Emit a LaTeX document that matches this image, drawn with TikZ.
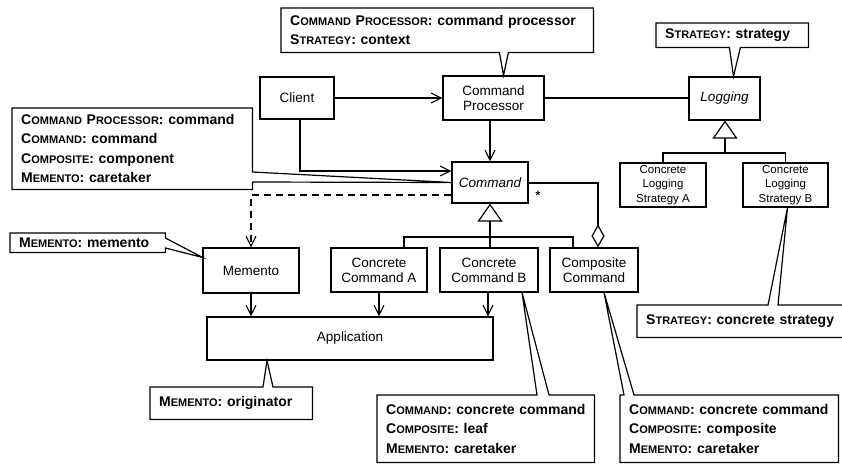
\documentclass[tikz,border=0pt]{standalone}
\usepackage{fontspec}
\setmainfont{Liberation Sans}
\usetikzlibrary{arrows.meta,calc}
% small capitals faked with a smaller size of the bold face
\newcommand\smc[1]{{\fontsize{11}{11}\selectfont #1}}

\begin{document}
\begin{tikzpicture}[x=1pt,y=-1pt,
  cls/.style={draw, line width=1.2pt, inner sep=0pt, align=center,
    font=\fontsize{13.5}{15}\selectfont},
  clsS/.style={cls, font=\fontsize{11.5}{14.5}\selectfont},
  note/.style={inner xsep=9pt, inner ysep=0pt, align=left, anchor=north west,
    font=\fontsize{14}{19.5}\selectfont\bfseries},
  outline/.style={line width=1.2pt, line join=miter},
  link/.style={line width=1.2pt},
  dep/.style={link, -{Straight Barb[length=10pt,width=10pt,line width=1.1pt]}},
  gen/.style={link, -{Triangle[open,length=18pt,width=25pt,line width=1.2pt]}},
  agg/.style={link, {Diamond[open,length=23pt,width=13pt,line width=1.2pt]}-},
]
\useasboundingbox (0,0) rectangle (842,463);

% ---------- classes ----------
\node[cls, minimum width=74pt,  minimum height=42pt] (client)   at (297,98)    {Client};
\node[cls, minimum width=101pt, minimum height=44pt] (cp)       at (493.5,98)  {Command\\Processor};
\node[cls, minimum width=71pt,  minimum height=43pt] (logging)  at (724.5,98.5) {\itshape Logging};
\node[cls, minimum width=76pt,  minimum height=41pt] (command)  at (490,182.5) {\itshape Command};
\node[clsS, minimum width=86pt, minimum height=44pt] (clsa)     at (663,185)   {Concrete\\Logging\\Strategy A};
\node[clsS, minimum width=85pt, minimum height=44pt] (clsb)     at (785.5,185) {Concrete\\Logging\\Strategy B};
\node[cls, minimum width=96pt,  minimum height=45pt] (memento)  at (251,270.5) {Memento};
\node[cls, minimum width=96pt,  minimum height=44pt] (cca)      at (379,270)   {Concrete\\Command A};
\node[cls, minimum width=98pt,  minimum height=44pt] (ccb)      at (489,270)   {Concrete\\Command B};
\node[cls, minimum width=88pt,  minimum height=44pt] (comp)     at (594,270)   {Composite\\Command};
\node[cls, minimum width=286pt, minimum height=43pt] (app)      at (350,338.5) {Application};

% ---------- notes ----------
\node[note, minimum width=312pt, minimum height=44pt, text width=294pt] (c1) at (281,8)
  {\mbox{C\smc{OMMAND} P\smc{ROCESSOR}: command processor}\\\mbox{S\smc{TRATEGY}: context}};
\node[note, minimum width=152pt, minimum height=24pt, text width=134pt] (c2) at (656,23)
  {\mbox{S\smc{TRATEGY}: strategy}};
\node[note, minimum width=240pt, minimum height=81pt, text width=222pt] (c3) at (12,108)
  {\mbox{C\smc{OMMAND} P\smc{ROCESSOR}: command}\\\mbox{C\smc{OMMAND}: command}\\
   \mbox{C\smc{OMPOSITE}: component}\\\mbox{M\smc{EMENTO}: caretaker}};
\node[note, minimum width=155pt, minimum height=19pt, text width=137pt] (c4) at (10,233)
  {\mbox{M\smc{EMENTO}: memento}};
\node[note, minimum width=162pt, minimum height=32pt, text width=144pt] (c5) at (150,387)
  {\mbox{M\smc{EMENTO}: originator}};
\node[note, minimum width=217pt, minimum height=67pt, text width=199pt] (c6) at (377,395)
  {\mbox{C\smc{OMMAND}: concrete command}\\\mbox{C\smc{OMPOSITE}: leaf}\\\mbox{M\smc{EMENTO}: caretaker}};
\node[note, minimum width=218pt, minimum height=67pt, text width=200pt] (c7) at (620,395)
  {\mbox{C\smc{OMMAND}: concrete command}\\\mbox{C\smc{OMPOSITE}: composite}\\\mbox{M\smc{EMENTO}: caretaker}};
\node[note, minimum width=215pt, minimum height=32pt, text width=197pt] (c8) at (637,305)
  {\mbox{S\smc{TRATEGY}: concrete strategy}};

% note outlines with their pointers
\draw[outline] (c1.south west) -- (c1.north west) -- (c1.north east) -- (c1.south east)
  -- ($(c1.south east)+(-85,0)$) -- ($(cp.north)+(10,0)$) -- ($(c1.south east)+(-94,0)$) -- cycle;
\draw[outline] (c2.south west) -- (c2.north west) -- (c2.north east) -- (c2.south east)
  -- ($(c2.south east)+(-68,0)$) -- ($(logging.north)+(9,0)$) -- ($(c2.south east)+(-79,0)$) -- cycle;
\draw[outline] (c3.north west) -- (c3.north east) -- ($(c3.north east)+(0,64)$)
  -- (command.west) -- ($(c3.north east)+(0,74)$) -- (c3.south east) -- (c3.south west) -- cycle;
\draw[outline] (c4.north west) -- (c4.north east) -- ($(c4.north east)+(0,5)$)
  -- ($(memento.north west)+(0,10)$) -- ($(c4.north east)+(0,15)$) -- (c4.south east) -- (c4.south west) -- cycle;
\draw[outline] (c5.north west) -- ($(c5.north west)+(113,0)$) -- ($(app.south)+(-83,0)$)
  -- ($(c5.north west)+(123,0)$) -- (c5.north east) -- (c5.south east) -- (c5.south west) -- cycle;
\draw[outline] (c6.north west) -- ($(c6.north west)+(160,0)$) -- ($(ccb.south)+(33,0)$)
  -- ($(c6.north west)+(172,0)$) -- (c6.north east) -- (c6.south east) -- (c6.south west) -- cycle;
\draw[outline] (c7.north west) -- ($(c7.north west)+(4,0)$) -- ($(comp.south)+(10,0)$)
  -- ($(c7.north west)+(14,0)$) -- (c7.north east) -- (c7.south east) -- (c7.south west) -- cycle;
\draw[outline] (c8.north east) -- ($(c8.north west)+(141,0)$) -- ($(clsb.south)+(2,0)$)
  -- ($(c8.north west)+(131,0)$) -- (c8.north west) -- (c8.south west) -- (c8.south east);

% ---------- associations and dependencies ----------
\draw[dep] (client.east) -- (client.east -| cp.west);
\draw[link] (cp.east) -- (cp.east -| logging.west);
\draw[dep] (command.north |- cp.south) -- (command.north);
\draw[dep] ($(client.south)+(3,0)$) |- ($(command.west)+(0,-11.5)$);
\draw[dep, dash pattern=on 7pt off 5pt] ($(command.west)+(0,12.5)$) -| (memento.north);
\draw[agg] ($(comp.north)+(4,0)$) |- ($(command.east)+(0,0.5)$);
\node[font=\fontsize{12}{12}\selectfont\bfseries, inner sep=0pt] (mult) at (538,195) {*};

\draw[dep] (memento.south) -- (memento.south |- app.north);
\draw[dep] (cca.south) -- (cca.south |- app.north);
\draw[dep] ($(ccb.south)+(-1,0)$) -- ($(ccb.south |- app.north)+(-1,0)$);

% ---------- generalisations ----------
\coordinate (cj) at (490,237);
\coordinate (ba) at (404,237);
\coordinate (bb) at (573,237);
\draw[gen] (cj) -- (command.south);
\draw[link] (ba |- cca.north) -- (ba) -- (bb) -- (bb |- comp.north);
\draw[link] (cj |- ccb.north) -- (cj);

\coordinate (lj) at (725,153);
\draw[gen] (lj) -- (lj |- logging.south);
\draw[link] (clsa.north) |- (lj) -| (clsb.north);
\end{tikzpicture}
\end{document}
